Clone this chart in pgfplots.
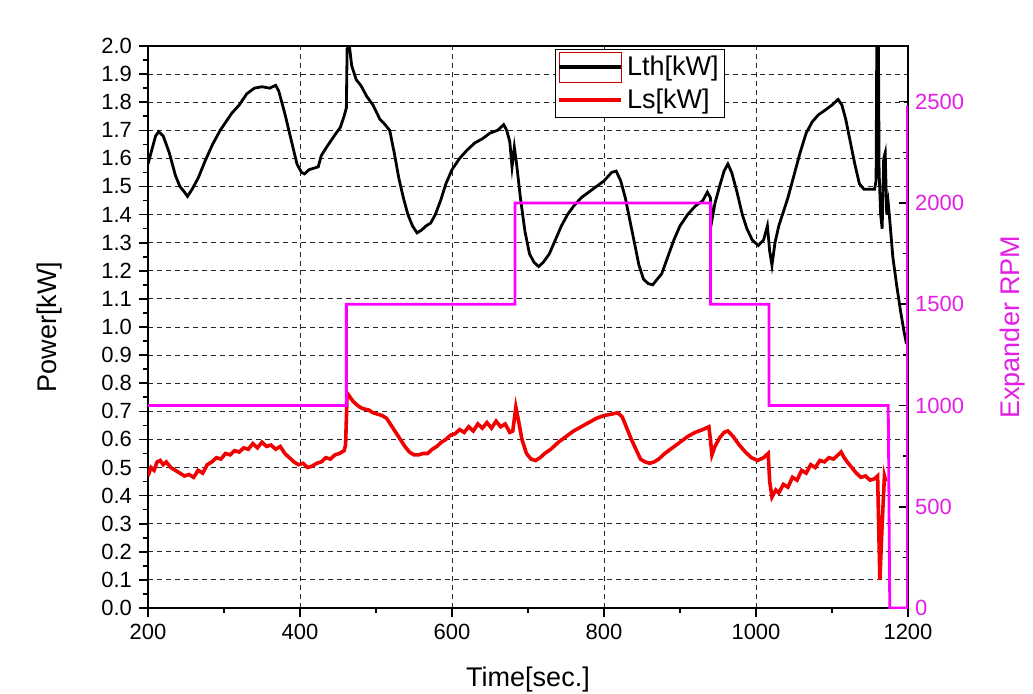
\documentclass[border=0pt]{standalone}
\usepackage{fontspec}
\setmainfont{Liberation Sans}
\usepackage{pgfplots}
\pgfplotsset{compat=1.18}
\definecolor{mag}{RGB}{255,0,255}
\definecolor{rpmlab}{RGB}{228,30,228}
\definecolor{lsred}{RGB}{240,0,0}
\begin{document}
\begin{tikzpicture}
\pgfplotsset{
  common/.style={
    scale only axis, width=380pt, height=281pt,
    xmin=200, xmax=1200,
    /pgf/number format/assume math mode=true,
    /pgf/number format/1000 sep={},
    tick label style={font=\fontsize{11}{13}\selectfont},
    label style={font=\fontsize{13.5}{16}\selectfont},
    major tick length=4.5pt, minor tick length=2.5pt,
    axis line style={line width=0.9pt},
    every tick/.style={black, line width=0.8pt},
  }
}
\begin{axis}[common,
  ymin=0, ymax=2,
  ytick={0,0.1,0.2,0.3,0.4,0.5,0.6,0.7,0.8,0.9,1.0,1.1,1.2,1.3,1.4,1.5,1.6,1.7,1.8,1.9,2.0},
  yticklabel style={/pgf/number format/fixed, /pgf/number format/fixed zerofill, /pgf/number format/precision=1},
  xtick={200,400,600,800,1000,1200},
  minor x tick num=1, minor y tick num=1,
  xtick pos=left, ytick pos=left,
  tick align=outside,
  grid=major,
  major grid style={black!85, line width=0.5pt, dash pattern=on 2.5pt off 2pt},
  xlabel={Time[sec.]}, ylabel={Power[kW]},
  xlabel style={at={(axis description cs:0.5,-0.14)}, anchor=base},
  ylabel style={at={(axis description cs:-0.129,0.5)}, anchor=center},
  legend cell align=left,
  legend style={at={(axis description cs:0.5355,0.9947)}, anchor=north west,
    draw=black, line width=0.6pt, fill=white,
    font=\fontsize{13.5}{15}\selectfont,
    inner sep=1pt, row sep=1pt,
    nodes={inner sep=2pt}},
]
\addplot[black, line width=1.4pt,
  legend image code/.code={
    \draw[red!80!black, line width=0.4pt] (0pt,-7.8pt) rectangle (31pt,7.5pt);
    \draw[black, line width=1.6pt] (0pt,0pt) -- (31pt,0pt);}]
coordinates {
(200,1.58)(205,1.63)(210,1.68)(214,1.695)(220,1.68)(228,1.62)(236,1.54)(242,1.50)(248,1.48)(252,1.465)
(258,1.49)(266,1.53)(275,1.59)(285,1.65)(295,1.70)(300,1.72)(310,1.76)(320,1.79)(330,1.83)(340,1.85)
(350,1.855)(360,1.85)(368,1.86)(372,1.84)(380,1.76)(388,1.67)(396,1.58)(402,1.55)(406,1.545)(412,1.56)
(418,1.565)(424,1.57)(428,1.61)(435,1.64)(445,1.68)(453,1.71)(458,1.75)(461,1.78)(462,1.99)(465,2.00)
(468,1.93)(474,1.88)(480,1.86)(488,1.82)(496,1.79)(505,1.74)(512,1.72)(518,1.70)(524,1.62)(530,1.53)
(536,1.46)(542,1.40)(548,1.36)(554,1.335)(560,1.345)(566,1.36)(572,1.37)(578,1.40)(585,1.45)(592,1.51)
(600,1.56)(610,1.60)(620,1.63)(630,1.655)(640,1.67)(650,1.69)(660,1.70)(668,1.72)(672,1.70)(676,1.66)
(679,1.57)(682,1.64)(685,1.58)(690,1.46)(696,1.34)(702,1.26)(708,1.23)(714,1.215)(720,1.23)(728,1.26)
(736,1.31)(744,1.36)(752,1.40)(760,1.43)(770,1.46)(780,1.48)(790,1.50)(800,1.52)(810,1.55)(816,1.555)
(822,1.52)(828,1.46)(834,1.38)(840,1.30)(846,1.22)(852,1.17)(858,1.155)(864,1.15)(870,1.17)(876,1.19)
(884,1.25)(892,1.31)(900,1.36)(910,1.40)(920,1.43)(930,1.45)(936,1.48)(940,1.46)(942,1.38)(946,1.44)
(952,1.50)(958,1.555)(963,1.58)(968,1.55)(975,1.48)(982,1.40)(988,1.35)(995,1.31)(1003,1.29)(1010,1.31)
(1015,1.36)(1018,1.27)(1021,1.22)(1025,1.30)(1030,1.36)(1036,1.41)(1042,1.46)(1050,1.54)(1058,1.62)
(1066,1.69)(1074,1.73)(1082,1.755)(1090,1.77)(1100,1.79)(1108,1.81)(1113,1.79)(1118,1.74)(1124,1.66)
(1130,1.58)(1136,1.51)(1142,1.49)(1150,1.49)(1156,1.49)(1158,1.52)(1159,2.05)(1161,2.05)(1162,1.55)
(1164,1.40)(1166,1.35)(1168,1.60)(1170,1.62)(1172,1.40)(1174,1.44)(1176,1.38)(1180,1.25)(1185,1.15)
(1190,1.06)(1195,0.98)(1198,0.94)
};
\addlegendentry{Lth[kW]}
\addplot[lsred, line width=1.8pt,
  legend image code/.code={
    \draw[lsred, line width=1.8pt] (0pt,0pt) -- (31pt,0pt);}]
coordinates {
(200,0.47)(204,0.50)(208,0.49)(212,0.52)(216,0.525)(220,0.51)(224,0.52)(230,0.50)(236,0.49)(242,0.48)
(248,0.47)(254,0.475)(260,0.465)(266,0.49)(272,0.48)(278,0.51)(284,0.52)(290,0.535)(296,0.53)(302,0.55)
(308,0.545)(314,0.56)(320,0.555)(326,0.57)(332,0.565)(338,0.585)(344,0.57)(350,0.59)(356,0.575)(362,0.58)
(368,0.565)(374,0.575)(380,0.55)(386,0.535)(392,0.52)(398,0.51)(404,0.515)(410,0.50)(416,0.505)(422,0.515)
(428,0.52)(434,0.535)(440,0.53)(446,0.545)(452,0.55)(458,0.56)(460,0.58)(462,0.765)(466,0.75)(470,0.735)
(476,0.72)(482,0.71)(490,0.705)(496,0.695)(502,0.69)(508,0.685)(514,0.675)(520,0.65)(526,0.625)(532,0.60)
(538,0.575)(544,0.555)(550,0.545)(556,0.545)(562,0.55)(568,0.55)(574,0.565)(580,0.575)(586,0.59)(592,0.60)
(598,0.615)(604,0.62)(610,0.635)(616,0.625)(622,0.645)(628,0.63)(634,0.655)(640,0.64)(646,0.66)(652,0.64)
(658,0.665)(664,0.645)(670,0.655)(676,0.625)(680,0.63)(684,0.715)(688,0.66)(692,0.60)(698,0.55)(704,0.53)
(710,0.525)(716,0.535)(722,0.55)(730,0.565)(740,0.59)(750,0.61)(760,0.63)(770,0.645)(780,0.66)(790,0.675)
(800,0.685)(810,0.69)(818,0.695)(824,0.68)(830,0.64)(836,0.60)(842,0.565)(848,0.53)(854,0.52)(860,0.515)
(866,0.52)(872,0.53)(880,0.55)(890,0.57)(900,0.59)(910,0.61)(920,0.625)(930,0.635)(938,0.645)(940,0.60)
(942,0.545)(946,0.575)(952,0.605)(958,0.625)(963,0.63)(970,0.61)(978,0.58)(986,0.555)(994,0.535)(1002,0.525)
(1010,0.535)(1016,0.55)(1018,0.45)(1021,0.395)(1026,0.42)(1030,0.41)(1036,0.44)(1042,0.43)(1048,0.465)
(1054,0.455)(1060,0.49)(1066,0.48)(1072,0.51)(1078,0.50)(1084,0.525)(1090,0.52)(1096,0.535)(1102,0.53)
(1108,0.545)(1112,0.555)(1116,0.535)(1120,0.52)(1126,0.50)(1132,0.48)(1138,0.465)(1144,0.47)(1150,0.455)
(1156,0.46)(1160,0.47)(1163,0.10)(1166,0.30)(1169,0.47)(1171,0.45)
};
\addlegendentry{Ls[kW]}
\end{axis}
\begin{axis}[common,
  ymin=0, ymax=2775,
  axis y line*=right, axis x line=none,
  ytick={0,500,1000,1500,2000,2500},
  minor y tick num=1,
  tick align=inside,
  yticklabel style={color=rpmlab},
  ylabel={Expander RPM},
  ylabel style={color=rpmlab, at={(axis description cs:1.137,0.5)}, anchor=center},
]
\addplot[mag, line width=1.4pt] coordinates {
(200,1000)(461,1000)(461,1500)(683,1500)(683,2000)(940,2000)(940,1500)(1017,1500)(1017,1000)
(1174,1000)(1176,0)(1199.3,0)(1199.3,2480)
};
\end{axis}
\pgfresetboundingbox
\useasboundingbox (-74pt,-42.5pt) rectangle (442.5pt,304pt);
\end{tikzpicture}
\end{document}
